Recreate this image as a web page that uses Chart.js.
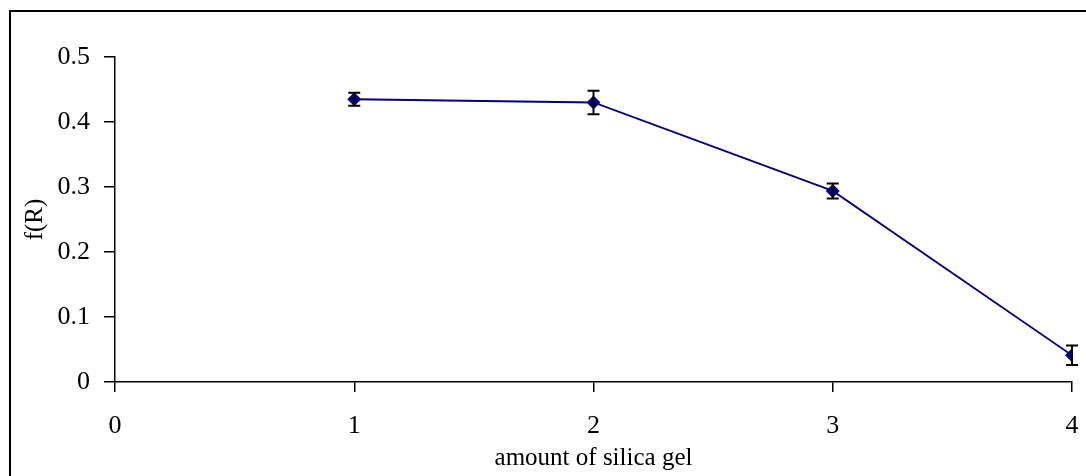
<!DOCTYPE html>
<html>
<head>
<meta charset="utf-8">
<script src="https://cdn.jsdelivr.net/npm/chart.js@4"></script>
<style>
  html, body { margin: 0; padding: 0; background: #fff; overflow: hidden; }
  #frame { position: absolute; left: 9px; top: 10px; width: 1100px; height: 500px; border: 2px solid #000; box-sizing: border-box; }
  #c { position: absolute; left: 0; top: 0; }
</style>
</head>
<body>
<div id="frame"></div>
<canvas id="c" width="1086" height="476"></canvas>
<script>
// data
const amounts = [1, 2, 3, 4];
const fR = [0.435, 0.43, 0.294, 0.041];
const fRErr = [0.010, 0.018, 0.0115, 0.015];
const xTicks = [0, 1, 2, 3, 4];
const yTicks = [0, 0.1, 0.2, 0.3, 0.4, 0.5];

const FONT = "'Liberation Serif', 'Times New Roman', serif";
const NAVY = '#000080';

// error bars drawn with the chart's own scales
const errorBars = {
    id: 'errorBars',
    afterDatasetsDraw(chart) {
        const ctx = chart.ctx, xs = chart.scales.x, ys = chart.scales.y;
        ctx.save();
        ctx.strokeStyle = '#000';
        ctx.lineWidth = 2;
        amounts.forEach((a, i) => {
            const px = xs.getPixelForValue(a);
            const top = ys.getPixelForValue(fR[i] + fRErr[i]);
            const bot = ys.getPixelForValue(fR[i] - fRErr[i]);
            ctx.beginPath();
            ctx.moveTo(px, top); ctx.lineTo(px, bot);
            ctx.moveTo(px - 6, top); ctx.lineTo(px + 6, top);
            ctx.moveTo(px - 6, bot); ctx.lineTo(px + 6, bot);
            ctx.stroke();
        });
        ctx.restore();
    }
};

new Chart(document.getElementById('c'), {
    type: 'scatter',
    data: {
        datasets: [{
            data: amounts.map((a, i) => ({ x: a, y: fR[i] })),
            showLine: true,
            borderColor: NAVY,
            borderWidth: 1.8,
            backgroundColor: NAVY,
            pointStyle: 'rectRot',
            pointRadius: 7,
            pointBorderWidth: 0
        }]
    },
    options: {
        responsive: false,
        animation: false,
        layout: { padding: { left: 0, right: 14, top: 57, bottom: 0 } },
        plugins: { legend: { display: false }, tooltip: { enabled: false } },
        scales: {
            x: {
                type: 'linear', min: 0, max: 4,
                afterBuildTicks: s => { s.ticks = xTicks.map(v => ({ value: v })); },
                afterFit: s => { s.height = 94; s.paddingLeft = 0; s.paddingRight = 0; },
                grid: { drawOnChartArea: false, drawTicks: true, tickLength: 10, color: '#000', lineWidth: 1.5 },
                border: { display: true, color: '#000', width: 1.5 },
                ticks: { color: '#000', font: { family: FONT, size: 26 }, padding: 19, maxRotation: 0 },
                title: { display: true, text: 'amount of silica gel', color: '#000', font: { family: FONT, size: 25 }, padding: { top: 3, bottom: 3 } }
            },
            y: {
                min: 0, max: 0.5,
                afterBuildTicks: s => { s.ticks = yTicks.map(v => ({ value: v })); },
                afterFit: s => { s.width = 115; },
                grid: { drawOnChartArea: false, drawTicks: true, tickLength: 11, color: '#000', lineWidth: 1.5 },
                border: { display: true, color: '#000', width: 1.5 },
                ticks: { color: '#000', font: { family: FONT, size: 26 }, padding: 14, callback: v => String(v) },
                title: { display: true, text: 'f(R)', color: '#000', font: { family: FONT, size: 25 }, padding: { top: 20, bottom: 0 } }
            }
        }
    },
    plugins: [errorBars]
});
</script>
</body>
</html>
